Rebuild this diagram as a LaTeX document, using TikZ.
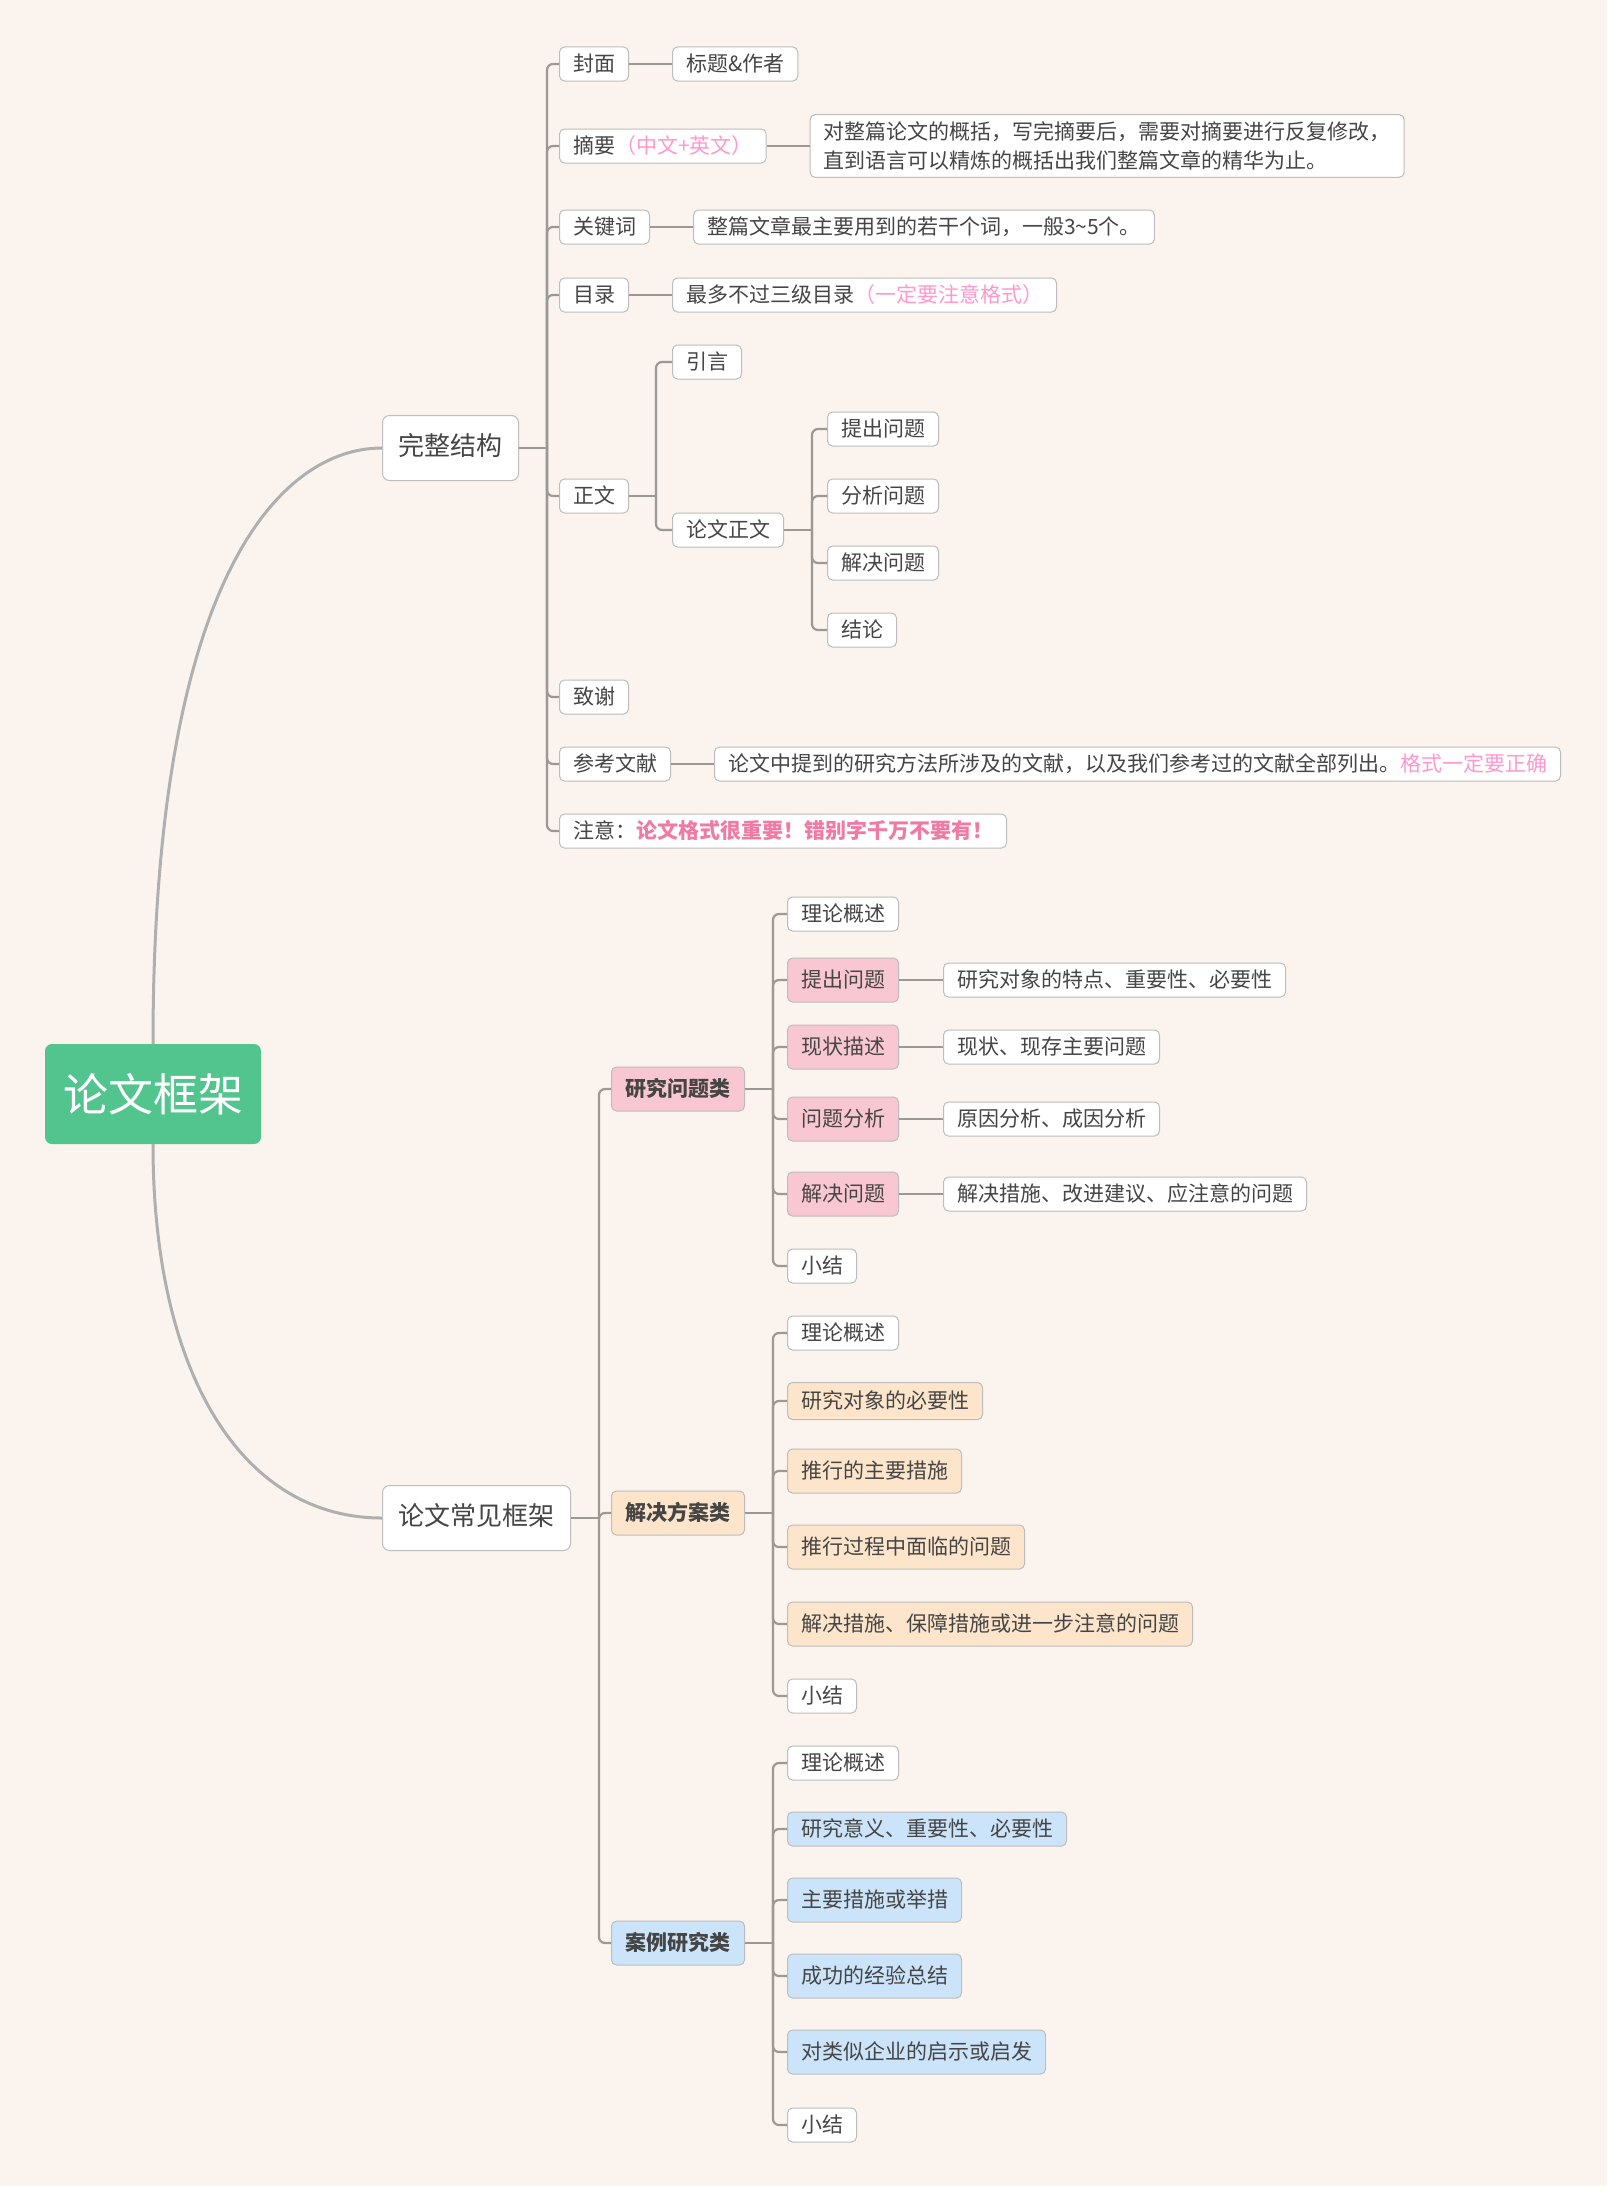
\documentclass[tikz,border=0pt]{standalone}
\usepackage{fontspec}
\setmainfont{Noto Sans CJK SC}
\usetikzlibrary{positioning}

\definecolor{bg}{HTML}{FBF3EE}
\definecolor{txt}{HTML}{454545}
\definecolor{edge}{HTML}{BDBDBD}
\definecolor{wire}{HTML}{9C9896}
\definecolor{curvegray}{HTML}{AFAFAF}
\definecolor{rootgreen}{HTML}{52C48D}
\definecolor{pinkfill}{HTML}{F9C7D2}
\definecolor{orangefill}{HTML}{FDE5CB}
\definecolor{bluefill}{HTML}{CBE4FA}
\definecolor{pinktxt}{HTML}{FF98CC}
\definecolor{pinkbold}{HTML}{F07AA3}

\begin{document}
\begin{tikzpicture}[
    x=1pt, y=-1pt,
    every node/.style={font=\fontsize{21}{29}\selectfont, text=txt},
    box/.style={draw=edge, line width=1pt, rounded corners=5pt, fill=white, anchor=west,
        inner xsep=13.5pt, inner ysep=6.5pt, text height=18pt, text depth=3pt},
    pinkbox/.style={box, fill=pinkfill, inner ysep=11.5pt},
    orangebox/.style={box, fill=orangefill, inner ysep=11.5pt},
    bluebox/.style={box, fill=bluefill, inner ysep=11.5pt},
    head/.style={font=\fontsize{21}{29}\selectfont\bfseries, inner xsep=14pt},
    topic/.style={box, font=\fontsize{26}{32}\selectfont, inner xsep=16pt, inner ysep=0pt,
        minimum height=65pt, rounded corners=7pt},
    root/.style={fill=rootgreen, rounded corners=7pt, text=white, font=\fontsize{45}{54}\selectfont,
        minimum width=216pt, minimum height=100pt, inner sep=0pt},
    branch/.style={draw=wire, line width=2.2pt, rounded corners=6pt},
    curve/.style={draw=curvegray, line width=3pt},
]

% page and background
\useasboundingbox (0,0) rectangle (1617,2200);
\fill[white] (0,0) rectangle (1617,2200);
\fill[bg] (0,0) rectangle (1607,2186);

% centre and main topics
\node[root] (root) at (153,1094) {论文框架};
\node[topic] (wzjg) at (382,448) {完整结构};
\node[topic] (lwcj) at (382,1518) {论文常见框架};

\draw[curve] (root.north) .. controls +(0,-470) and +(-100,0) .. (wzjg.west);
\draw[curve] (root.south) .. controls +(0,230) and +(-140,0) .. (lwcj.west);

% ---- 完整结构 ----
\foreach \n/\y/\lbl in {fm/64/封面, gjc/227/关键词, ml/295/目录, zw/496/正文, zx/697/致谢, ckwx/764/参考文献}
    \node[box] (\n) at (559,\y) {\lbl};
\node[box] (zy) at (559,146) {摘要{\color{pinktxt}（中文+英文）}};
\node[box] (zyi) at (559,831) {注意：{\bfseries\color{pinkbold}论文格式很重要！错别字千万不要有！}};

\node[box, right=43pt of fm] (fm-d) {标题\&作者};
\node[box, right=43pt of zy, align=left, text height={}, text depth={}, inner ysep=7pt] (zy-d)
    {对整篇论文的概括，写完摘要后，需要对摘要进行反复修改，\\直到语言可以精炼的概括出我们整篇文章的精华为止。};
\node[box, right=43pt of gjc] (gjc-d) {整篇文章最主要用到的若干个词，一般3\textasciitilde5个。};
\node[box, right=43pt of ml] (ml-d) {最多不过三级目录{\color{pinktxt}（一定要注意格式）}};
\node[box, right=43pt of ckwx] (ckwx-d) {论文中提到的研究方法所涉及的文献，以及我们参考过的文献全部列出。{\color{pinktxt}格式一定要正确}};

\coordinate (j1) at ([xshift=28pt]wzjg.east);
\draw[branch] (wzjg.east) -- (j1);
\foreach \n in {fm,zy,gjc,ml,zw,zx,ckwx,zyi}
    \draw[branch] (j1) |- (\n.west);
\foreach \n in {fm,zy,gjc,ml,ckwx}
    \draw[branch] (\n.east) -- (\n-d.west);

% 正文
\node[box] (yy) at (672,362) {引言};
\node[box] (lwzw) at (672,530) {论文正文};
\coordinate (j2) at ([xshift=27pt]zw.east);
\draw[branch] (zw.east) -- (j2);
\foreach \n in {yy,lwzw}
    \draw[branch] (j2) |- (\n.west);

\foreach \n/\y/\lbl in {tcwt/429/提出问题, fxwt/496/分析问题, jjwt/563/解决问题, jl/630/结论}
    \node[box] (\n) at (827,\y) {\lbl};
\coordinate (j3) at ([xshift=28pt]lwzw.east);
\draw[branch] (lwzw.east) -- (j3);
\foreach \n in {tcwt,fxwt,jjwt,jl}
    \draw[branch] (j3) |- (\n.west);

% ---- 论文常见框架 ----
\node[pinkbox, head] (yjwt) at (611,1089) {研究问题类};
\node[orangebox, head] (jjfa) at (611,1513) {解决方案类};
\node[bluebox, head] (alyj) at (611,1943) {案例研究类};
\coordinate (j4) at ([xshift=28pt]lwcj.east);
\draw[branch] (lwcj.east) -- (j4);
\foreach \n in {yjwt,jjfa,alyj}
    \draw[branch] (j4) |- (\n.west);

% 研究问题类
\node[box] (a1) at (787,914) {理论概述};
\foreach \n/\y/\lbl in {a2/980/提出问题, a3/1047/现状描述, a4/1119/问题分析, a5/1194/解决问题}
    \node[pinkbox] (\n) at (787,\y) {\lbl};
\node[box] (a6) at (787,1266) {小结};
\foreach \n/\lbl in {a2/研究对象的特点、重要性、必要性, a3/现状、现存主要问题, a4/原因分析、成因分析, a5/解决措施、改进建议、应注意的问题} {
    \node[box, right=44pt of \n] (\n-d) {\lbl};
    \draw[branch] (\n.east) -- (\n-d.west);
}
\coordinate (j5) at ([xshift=28pt]yjwt.east);
\draw[branch] (yjwt.east) -- (j5);
\foreach \n in {a1,a2,a3,a4,a5,a6}
    \draw[branch] (j5) |- (\n.west);

% 解决方案类
\node[box] (b1) at (787,1333) {理论概述};
\node[orangebox, inner ysep=8pt] (b2) at (787,1401) {研究对象的必要性};
\foreach \n/\y/\lbl in {b3/1471/推行的主要措施, b4/1547/推行过程中面临的问题, b5/1624/解决措施、保障措施或进一步注意的问题}
    \node[orangebox] (\n) at (787,\y) {\lbl};
\node[box] (b6) at (787,1696) {小结};
\coordinate (j6) at ([xshift=28pt]jjfa.east);
\draw[branch] (jjfa.east) -- (j6);
\foreach \n in {b1,b2,b3,b4,b5,b6}
    \draw[branch] (j6) |- (\n.west);

% 案例研究类
\node[box] (c1) at (787,1763) {理论概述};
\node[bluebox, inner ysep=6.5pt] (c2) at (787,1829) {研究意义、重要性、必要性};
\foreach \n/\y/\lbl in {c3/1900/主要措施或举措, c4/1976/成功的经验总结, c5/2052/对类似企业的启示或启发}
    \node[bluebox] (\n) at (787,\y) {\lbl};
\node[box] (c6) at (787,2125) {小结};
\coordinate (j7) at ([xshift=28pt]alyj.east);
\draw[branch] (alyj.east) -- (j7);
\foreach \n in {c1,c2,c3,c4,c5,c6}
    \draw[branch] (j7) |- (\n.west);

\end{tikzpicture}
\end{document}
